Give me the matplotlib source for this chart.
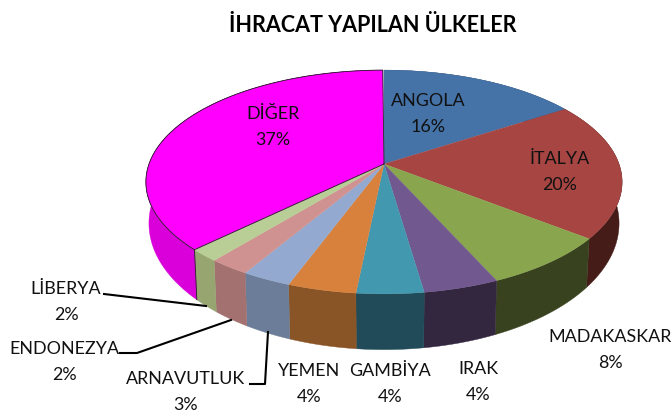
import matplotlib
matplotlib.use('Agg')
import matplotlib.pyplot as plt
import numpy as np

labels = ['ANGOLA', 'İTALYA', 'MADAKASKAR', 'IRAK', 'GAMBİYA', 'YEMEN',
          'ARNAVUTLUK', 'ENDONEZYA', 'LİBERYA', 'DİĞER']
# shares, the labels show them rounded
values = [15.8, 19.8, 7.7, 4.4, 3.9, 4.0, 2.9, 2.4, 1.8, 37.2]
colors = ['#4572A7', '#A64542', '#89A54E', '#71588F', '#4198AF', '#D8813C',
          '#93A9CF', '#D09290', '#B9CD96', '#FF00FF']
side_colors = ['#2A4568', '#451C18', '#38421E', '#33263F', '#214B58', '#8A5526',
               '#6B7D98', '#A3716F', '#97A671', '#D900D9']

plt.rcParams['font.family'] = ['Lato', 'DejaVu Sans']

fig = plt.figure(figsize=(6.71, 4.14), dpi=100)
ax = fig.add_axes([0, 0, 1, 1])
ax.set_xlim(0, 671)
ax.set_ylim(414, 0)
ax.axis('off')

cx = 384
k = 0.161  # perspective of the tilted disc


def top_rim(t):
    d = 1 + k * np.cos(t)
    return cx + 235 * np.sin(t) / d, 165 - 109 * np.cos(t) / d


def bottom_rim(t):
    d = 1 + k * np.cos(t)
    return cx + 232 * np.sin(t) / d, 204 - 123 * np.cos(t) / d


edges = np.radians(np.cumsum([0] + values) * 3.6)

# side walls first, the top hides whatever faces away
for i in range(len(values)):
    t = np.linspace(edges[i], edges[i + 1], 80)
    x, y = top_rim(t)
    x2, y2 = bottom_rim(t)
    ax.fill(np.r_[x, x2[::-1]], np.r_[y, y2[::-1]], color=side_colors[i],
            ec=side_colors[i], lw=0.3, zorder=2)

# top of the pie
for i in range(len(values)):
    t = np.linspace(edges[i], edges[i + 1], 80)
    x, y = top_rim(t)
    ax.fill(np.r_[cx, x], np.r_[165, y], color=colors[i], ec=colors[i], lw=0.2,
            zorder=4)

# thin dark outline round the big slice
t = np.linspace(edges[9], edges[10], 120)
x, y = top_rim(t)
ax.plot(np.r_[cx, x, cx], np.r_[165, y, 165], color='#222222', lw=0.6, zorder=5)
x0, y0 = top_rim(edges[9])
x1, y1 = bottom_rim(edges[9])
ax.plot([x0, x1], [y0, y1], color='#222222', lw=0.6, zorder=5)

ax.text(373, 26, 'İHRACAT YAPILAN ÜLKELER', ha='center', va='center',
        fontsize=15.5, fontweight='bold', color='black')

label_x = [428, 560, 610, 478, 390, 309, 186, 64, 66, 273]
label_y = [114, 172, 350, 382, 384, 384, 392, 362, 302, 127]
for name, v, lx, ly in zip(labels, values, label_x, label_y):
    ax.text(lx, ly - 13, name, ha='center', va='center', fontsize=12.9,
            color='#111111', zorder=6)
    ax.text(lx, ly + 13, f'{round(v)}%', ha='center', va='center', fontsize=12.9,
            color='#111111', zorder=6)

# leader lines
leaders_x = [[104, 206], [120, 137, 231], [268, 265, 250]]
leaders_y = [[295, 307], [354, 354, 321], [333, 385, 385]]
for lxs, lys in zip(leaders_x, leaders_y):
    ax.plot(lxs, lys, color='black', lw=1.5, zorder=6)

fig.savefig('out.png', dpi=100)
